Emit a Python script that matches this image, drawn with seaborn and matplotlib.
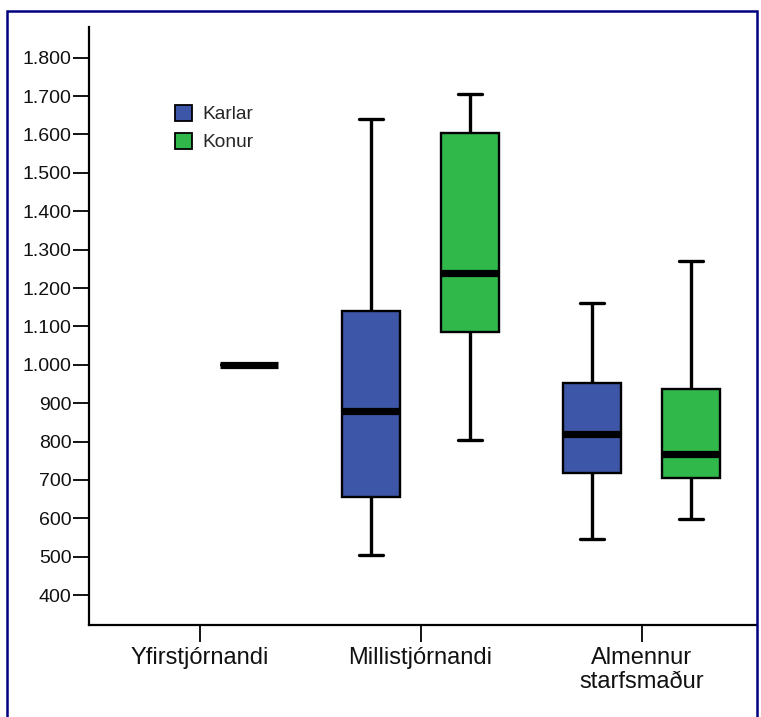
"""
Boxplot of salaries by job level and gender (Karlar / Konur)
"""
import numpy as np
import pandas as pd
import matplotlib
matplotlib.use("Agg")
import matplotlib.pyplot as plt
import matplotlib.ticker as ticker
from matplotlib.patches import Patch, Rectangle
import seaborn as sns

# five-number summaries: min, Q1, median, Q3, max
categories = ["Yfirstjórnandi", "Millistjórnandi", "Almennur\nstarfsmaður"]
genders = ["Karlar", "Konur"]
colors = ["#3D56A7", "#30B84A"]

karlar_milli = [505, 655, 880, 1140, 1640]
karlar_almennur = [545, 717, 820, 953, 1160]
konur_yfir = [1000]
konur_milli = [805, 1085, 1240, 1605, 1705]
konur_almennur = [597, 705, 768, 936, 1270]

yticks = np.arange(400, 1900, 100)

groups = [
    ("Millistjórnandi", "Karlar", karlar_milli),
    ("Almennur\nstarfsmaður", "Karlar", karlar_almennur),
    ("Yfirstjórnandi", "Konur", konur_yfir),
    ("Millistjórnandi", "Konur", konur_milli),
    ("Almennur\nstarfsmaður", "Konur", konur_almennur),
]
rows = []
for cat, g, vals in groups:
    for v in vals:
        rows.append({"starf": cat, "kyn": g, "laun": v})
df = pd.DataFrame(rows)

sns.set_style("ticks")
plt.rcParams["font.family"] = ["Liberation Sans", "DejaVu Sans"]

fig = plt.figure(figsize=(7.61, 7.17), dpi=100)
ax = fig.add_axes([89 / 761, 92 / 717, 663 / 761, 598 / 717])

sns.boxplot(data=df, x="starf", y="laun", hue="kyn",
            order=categories, hue_order=genders, palette=colors,
            saturation=1, width=0.9, gap=0.42, whis=(0, 100),
            linecolor="black", linewidth=1.7,
            medianprops={"linewidth": 5.2, "color": "black"},
            whiskerprops={"linewidth": 2.4},
            capprops={"linewidth": 2.4},
            legend=False, ax=ax)

# narrower whisker caps, as in the original
for line in ax.lines:
    xd, yd = np.asarray(line.get_xdata(), float), np.asarray(line.get_ydata(), float)
    if len(xd) == 2 and yd[0] == yd[1] and 0 < abs(xd[1] - xd[0]) < 0.2:
        mid = xd.mean()
        line.set_xdata([mid - 0.055, mid + 0.055])

ax.set_xlim(-0.5, 2.5)
ax.set_ylim(322, 1880)
ax.set_yticks(yticks)
ax.yaxis.set_major_formatter(
    ticker.FuncFormatter(lambda v, p: f"{int(v):,}".replace(",", ".")))
ax.set_xlabel("")
ax.set_ylabel("")

sns.despine(ax=ax)
for side in ["left", "bottom"]:
    ax.spines[side].set_linewidth(1.6)
    ax.spines[side].set_color("black")
ax.spines["bottom"].set_bounds(-0.5, 2.52)
ax.spines["bottom"].set_clip_on(False)

ax.tick_params(axis="y", length=11.5, width=1.3, pad=1, labelsize=14,
               color="black", labelcolor="#111111")
ax.tick_params(axis="x", length=12, width=1.3, pad=4, labelsize=17,
               color="black", labelcolor="#111111")
for lbl in ax.get_xticklabels():
    lbl.set_linespacing(1.12)

handles = [Patch(facecolor=c, edgecolor="black", linewidth=1.3, label=g)
           for g, c in zip(genders, colors)]
ax.legend(handles=handles, loc="upper left", bbox_to_anchor=(0.13, 0.87),
          frameon=False, fontsize=13.8, handlelength=0.9, handleheight=0.9,
          handletextpad=0.5, labelspacing=0.5, borderpad=0, borderaxespad=0)

# navy frame round the picture
fig.patches.append(Rectangle((7 / 761, -0.02), 750 / 761, 1.02 - 11 / 717,
                             transform=fig.transFigure, fill=False,
                             edgecolor="#00007F", linewidth=1.8))

fig.savefig("out.png", dpi=100)
